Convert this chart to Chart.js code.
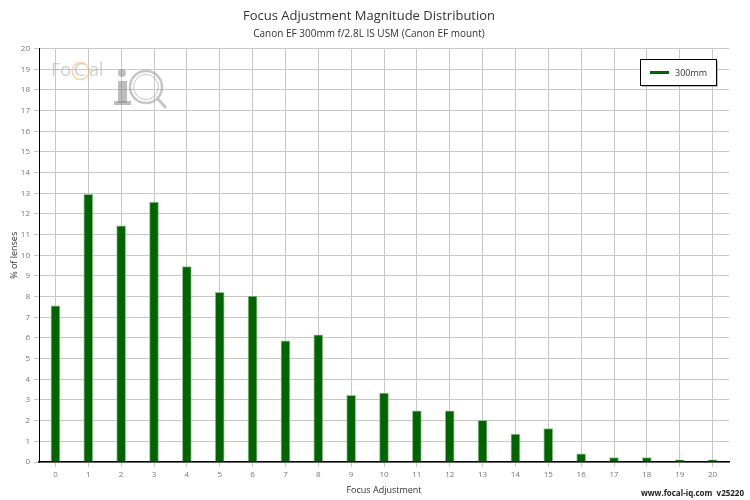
<!DOCTYPE html>
<html>
<head>
<meta charset="utf-8">
<script src="https://cdn.jsdelivr.net/npm/chart.js@4.4.1/dist/chart.umd.min.js"></script>
<style>
  html, body { margin: 0; padding: 0; background: #fff; }
  #wrap { width: 750px; height: 500px; }
</style>
</head>
<body>
<div id="wrap"><canvas id="chart"></canvas></div>
<script>
// focus adjustment steps (x) and % of lenses per step
const adjustments = ['0', '1', '2', '3', '4', '5', '6', '7', '8', '9', '10',
    '11', '12', '13', '14', '15', '16', '17', '18', '19', '20']
const percentLenses = [7.56, 12.95, 11.43, 12.57, 9.45, 8.21, 8.03, 5.86, 6.15, 3.22, 3.33,
    2.48, 2.48, 2.01, 1.35, 1.62, 0.40, 0.21, 0.21, 0.11, 0.11]
const seriesName = '300mm'
const titleText = 'Focus Adjustment Magnitude Distribution'
const subtitleText = 'Canon EF 300mm f/2.8L IS USM (Canon EF mount)'
const footerText = 'www.focal-iq.com  v25220'

const FONT = "'Open Sans', 'DejaVu Sans', sans-serif"
const GREEN = '#006400'

// watermark logo, legend box and footer
const extras = {
    id: 'extras',
    beforeDatasetsDraw(chart) {
        const ctx = chart.ctx
        ctx.save()
        ctx.globalAlpha = 0.55
        ctx.fillStyle = '#aaa'
        ctx.font = '18px ' + FONT
        ctx.textBaseline = 'middle'
        ctx.fillText('Fo', 51, 71)
        ctx.fillText('C', 74, 71)
        ctx.fillText('al', 89, 71)
        ctx.strokeStyle = 'rgba(240,170,80,0.9)'
        ctx.lineWidth = 1.5
        ctx.beginPath()
        ctx.arc(80.5, 71, 8.5, 0, Math.PI * 2)
        ctx.stroke()
        // "i"
        ctx.fillStyle = '#888'
        ctx.beginPath()
        ctx.arc(122, 73, 4, 0, Math.PI * 2)
        ctx.fill()
        ctx.fillRect(118, 81, 9, 22)
        ctx.fillRect(114, 101, 17, 4)
        // magnifier "Q"
        ctx.strokeStyle = '#999'
        ctx.lineWidth = 2.5
        ctx.beginPath()
        ctx.arc(146, 87, 16, 0, Math.PI * 2)
        ctx.stroke()
        ctx.lineWidth = 1
        ctx.beginPath()
        ctx.arc(146, 87, 12.5, 0, Math.PI * 2)
        ctx.stroke()
        ctx.lineWidth = 3
        ctx.beginPath()
        ctx.moveTo(158, 99)
        ctx.lineTo(166, 108)
        ctx.stroke()
        ctx.restore()
    },
    afterDraw(chart) {
        const ctx = chart.ctx
        ctx.save()
        // legend
        const x = 640, y = 59, w = 76, h = 26
        ctx.fillStyle = 'rgba(0,0,0,0.25)'
        ctx.fillRect(x + 2, y + 2, w, h)
        ctx.fillStyle = '#fff'
        ctx.fillRect(x, y, w, h)
        ctx.strokeStyle = '#000'
        ctx.lineWidth = 1
        ctx.strokeRect(x + 0.5, y + 0.5, w, h)
        ctx.strokeStyle = GREEN
        ctx.lineWidth = 3
        ctx.beginPath()
        ctx.moveTo(x + 10, y + 13.5)
        ctx.lineTo(x + 29, y + 13.5)
        ctx.stroke()
        ctx.fillStyle = '#333'
        ctx.font = '9px ' + FONT
        ctx.textBaseline = 'middle'
        ctx.fillText(chart.data.datasets[0].label, x + 35, y + 14)
        // footer
        ctx.font = 'bold 8px ' + FONT
        ctx.fillStyle = '#222'
        ctx.textAlign = 'right'
        ctx.fillText(footerText, 744, 494)
        ctx.restore()
    },
}

new Chart(document.getElementById('chart').getContext('2d'), {
    type: 'bar',
    data: {
        labels: adjustments,
        datasets: [
            {
                label: seriesName,
                data: percentLenses,
                backgroundColor: GREEN,
                borderColor: 'rgba(120,180,120,0.8)',
                borderWidth: 1,
                borderSkipped: 'bottom',
                barThickness: 9,
            },
        ],
    },
    options: {
        responsive: true,
        maintainAspectRatio: false,
        animation: false,
        layout: { padding: { left: 9, right: 21, top: 0, bottom: 0 } },
        plugins: {
            legend: { display: false },
            tooltip: { enabled: false },
            title: {
                display: true,
                text: titleText,
                color: '#333',
                font: { family: FONT, size: 13, weight: 'normal' },
                padding: { top: 8, bottom: 2 },
            },
            subtitle: {
                display: true,
                text: subtitleText,
                color: '#333',
                font: { family: FONT, size: 10 },
                padding: { top: 3, bottom: 8 },
            },
        },
        scales: {
            x: {
                grid: { offset: false, color: '#c8c8c8', tickLength: 5, tickColor: '#c8c8c8' },
                border: { color: '#000', width: 1.5 },
                ticks: { color: '#777', font: { family: FONT, size: 8 }, padding: 3, maxRotation: 0 },
                title: {
                    display: true,
                    text: 'Focus Adjustment',
                    color: '#333',
                    font: { family: FONT, size: 9 },
                    padding: { top: 0, bottom: 4 },
                },
                afterFit(scale) { scale.height = 38 },
            },
            y: {
                min: 0,
                max: 20,
                ticks: { stepSize: 1, color: '#777', font: { family: FONT, size: 8 }, padding: 4 },
                grid: { color: '#c8c8c8', tickLength: 5, tickColor: '#c8c8c8' },
                border: { color: '#000', width: 1 },
                title: {
                    display: true,
                    text: '% of lenses',
                    color: '#333',
                    font: { family: FONT, size: 9 },
                    padding: { top: 0, bottom: 2 },
                },
                afterFit(scale) { scale.width = 30 },
            },
        },
    },
    plugins: [extras],
})
</script>
</body>
</html>
